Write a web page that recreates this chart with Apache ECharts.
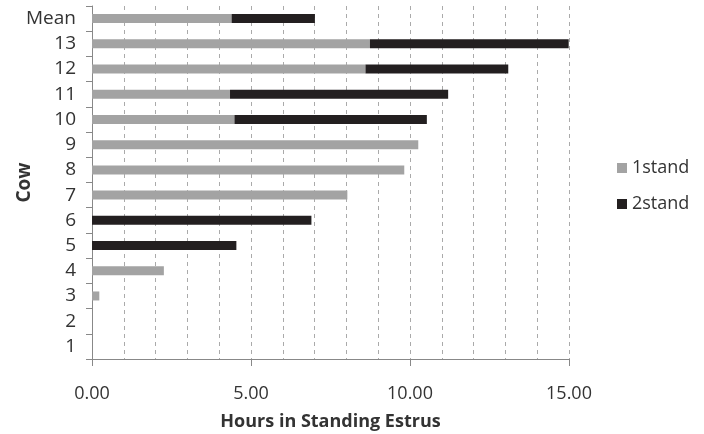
<!DOCTYPE html>
<html>
<head>
<meta charset="utf-8">
<script src="https://cdn.jsdelivr.net/npm/echarts@6/dist/echarts.min.js"></script>
<style>html,body{margin:0;padding:0;background:#fff}#c{width:704px;height:434px}</style>
</head>
<body>
<div id="c"></div>
<script>
const cows = ['1','2','3','4','5','6','7','8','9','10','11','12','13','Mean'];
const stand1 = [0, 0, 0.23, 2.26, 0, 0, 8.03, 9.82, 10.26, 4.48, 4.34, 8.60, 8.74, 4.39];
const stand2 = [0, 0, 0, 0, 4.54, 6.90, 0, 0, 0, 6.05, 6.86, 4.49, 6.25, 2.62];
const xTicks = [0, 5, 10, 15];

const font = 'Open Sans';
const chart = echarts.init(document.getElementById('c'));
chart.setOption({
  animation: false,
  textStyle: { fontFamily: font },
  grid: { left: 92, right: 135, top: 6, bottom: 75, containLabel: false, outerBoundsMode: 'none' },
  legend: {
    orient: 'vertical',
    left: 612, top: 154,
    itemWidth: 10, itemHeight: 10, itemGap: 18,
    icon: 'rect',
    textStyle: { fontSize: 18, color: '#333', fontFamily: font },
    data: ['1stand', '2stand']
  },
  xAxis: {
    type: 'value',
    min: xTicks[0], max: xTicks[xTicks.length - 1], interval: 5,
    name: 'Hours in Standing Estrus',
    nameLocation: 'middle', nameGap: 54, nameMoveOverlap: false,
    nameTextStyle: { fontSize: 18, fontWeight: 'bold', color: '#333', fontFamily: font },
    axisLine: { show: true, lineStyle: { color: '#888', width: 1 } },
    axisTick: { show: true, length: 7, lineStyle: { color: '#888' } },
    axisLabel: { margin: 26, fontSize: 18, color: '#333', formatter: v => v.toFixed(2) },
    splitLine: { show: true, lineStyle: { color: '#aaa', type: [4, 4], width: 1 } },
    minorTick: { show: false, splitNumber: 5 },
    minorSplitLine: { show: true, lineStyle: { color: '#aaa', type: [4, 4], width: 1 } }
  },
  yAxis: {
    type: 'category',
    data: cows,
    name: 'Cow',
    nameLocation: 'middle', nameGap: 58, nameMoveOverlap: false,
    nameTextStyle: { fontSize: 19, fontWeight: 'bold', color: '#333', fontFamily: font },
    axisLine: { show: true, lineStyle: { color: '#888', width: 1 } },
    axisTick: { show: true, length: 6, lineStyle: { color: '#888' } },
    axisLabel: { margin: 16, fontSize: 19, color: '#333' },
    splitLine: { show: false }
  },
  series: [
    { name: '1stand', type: 'bar', stack: 'h', data: stand1, barWidth: 9,
      itemStyle: { color: '#a3a3a3' } },
    { name: '2stand', type: 'bar', stack: 'h', data: stand2, barWidth: 9,
      itemStyle: { color: '#231f20' } }
  ]
});
</script>
</body>
</html>
